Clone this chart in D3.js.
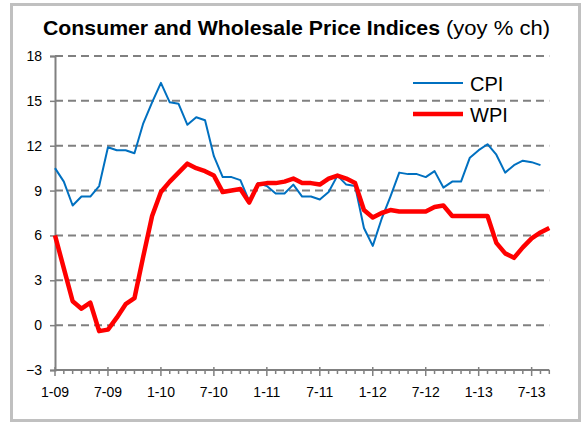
<!DOCTYPE html>
<html>
<head>
<meta charset="utf-8">
<script src="https://cdn.jsdelivr.net/npm/d3@7"></script>
<style>
  html, body { margin: 0; padding: 0; background: #fff; }
  svg { display: block; font-family: "Liberation Sans", Arial, sans-serif; }
</style>
</head>
<body>
<svg id="chart" width="582" height="423"></svg>
<script>
// Monthly year-on-year inflation, Jan 2009 onwards (index 0 = Jan 2009)
const cpi = [
  10.5, 9.6, 8.0, 8.6, 8.6, 9.3, 11.9, 11.7, 11.7, 11.5, 13.5, 14.9,
  16.2, 14.9, 14.8, 13.4, 13.9, 13.7, 11.3, 9.9, 9.9, 9.7, 8.3, 9.5,
  9.3, 8.8, 8.8, 9.4, 8.6, 8.6, 8.4, 8.9, 10.0, 9.4, 9.3, 6.5,
  5.3, 7.1, 8.6, 10.2, 10.1, 10.1, 9.9, 10.3, 9.2, 9.6, 9.6, 11.2,
  11.7, 12.1, 11.4, 10.2, 10.7, 11.0, 10.9, 10.7
];
const wpi = [
  6.0, 3.8, 1.6, 1.1, 1.5, -0.4, -0.3, 0.5, 1.4, 1.8, 4.6, 7.3,
  8.9, 9.6, 10.2, 10.8, 10.5, 10.3, 10.0, 8.9, 9.0, 9.1, 8.2, 9.4,
  9.5, 9.5, 9.6, 9.8, 9.5, 9.5, 9.4, 9.8, 10.0, 9.8, 9.5, 7.7,
  7.2, 7.5, 7.7, 7.6, 7.6, 7.6, 7.6, 7.9, 8.0, 7.3, 7.3, 7.3,
  7.3, 7.3, 5.5, 4.8, 4.5, 5.2, 5.8, 6.2, 6.5
];
const monthCount = 57; // Jan 2009 .. Sep 2013
const xTickLabels = ["1-09", "7-09", "1-10", "7-10", "1-11", "7-11", "1-12", "7-12", "1-13", "7-13"];
const yTicks = [-3, 0, 3, 6, 9, 12, 15, 18];
const seriesNames = ["CPI", "WPI"];

const svg = d3.select("#chart");
const plot = { left: 55, right: 549.3, top: 56, bottom: 370 };

// outer frame
svg.append("rect")
  .attr("x", 11.5).attr("y", 4.5).attr("width", 568).attr("height", 416)
  .attr("fill", "#fff").attr("stroke", "#c0c0c0").attr("stroke-width", 3);

const x = d3.scaleLinear().domain([0, monthCount - 1]).range([plot.left, plot.right]);
const y = d3.scaleLinear().domain([-3, 18]).range([plot.bottom, plot.top]);

// dashed horizontal gridlines
svg.append("g").selectAll("line")
  .data(yTicks.filter(v => v > -3))
  .join("line")
  .attr("x1", plot.left).attr("x2", plot.right)
  .attr("y1", d => y(d)).attr("y2", d => y(d))
  .attr("stroke", "#808080").attr("stroke-width", 2)
  .attr("stroke-dasharray", "8,5");

// y axis
const yAxis = d3.axisLeft(y).tickValues(yTicks).tickSize(5).tickPadding(8);
const gy = svg.append("g").attr("transform", `translate(${plot.left},0)`).call(yAxis);
gy.select(".domain").attr("stroke", "#808080").attr("stroke-width", 2);
gy.selectAll(".tick line").attr("stroke", "#808080").attr("stroke-width", 1.5);
gy.selectAll(".tick text").attr("font-size", 14).attr("fill", "#000")
  .attr("font-family", "Liberation Sans, Arial, sans-serif");

// x axis: minor ticks each month, labelled major ticks every six months
const gx = svg.append("g").attr("transform", `translate(0,${plot.bottom})`);
gx.append("line").attr("x1", plot.left).attr("x2", plot.right)
  .attr("stroke", "#808080").attr("stroke-width", 2);
gx.selectAll("line.minor")
  .data(d3.range(monthCount))
  .join("line").attr("class", "minor")
  .attr("x1", d => x(d)).attr("x2", d => x(d))
  .attr("y1", d => d % 6 === 0 ? -3 : 0)
  .attr("y2", d => d % 6 === 0 ? 6 : 4)
  .attr("stroke", "#808080").attr("stroke-width", 1.5);
gx.selectAll("text")
  .data(xTickLabels)
  .join("text")
  .attr("x", (d, i) => x(i * 6)).attr("y", 27)
  .attr("text-anchor", "middle").attr("font-size", 14).attr("fill", "#000")
  .text(d => d);

// series lines
const line = d3.line().x((d, i) => x(i)).y(d => y(d));
svg.append("path").datum(cpi).attr("d", line)
  .attr("fill", "none").attr("stroke", "#0070C0").attr("stroke-width", 2)
  .attr("stroke-linejoin", "round");
svg.append("path").datum(wpi).attr("d", line)
  .attr("fill", "none").attr("stroke", "#FF0000").attr("stroke-width", 4.5)
  .attr("stroke-linejoin", "round");

// legend
const legend = svg.append("g");
const legendStyles = [
  { color: "#0070C0", width: 2, y: 83 },
  { color: "#FF0000", width: 4.5, y: 114 }
];
seriesNames.forEach((name, i) => {
  const s = legendStyles[i];
  legend.append("line").attr("x1", 413).attr("x2", 463).attr("y1", s.y).attr("y2", s.y)
    .attr("stroke", s.color).attr("stroke-width", s.width);
  legend.append("text").attr("x", 470).attr("y", s.y + 7.5)
    .attr("font-size", 20).attr("fill", "#000").text(name);
});

// title: bold main part followed by the units note
svg.append("text").attr("x", 43).attr("y", 35)
  .attr("font-size", 21).attr("font-weight", "bold").attr("fill", "#000")
  .attr("textLength", 397).attr("lengthAdjust", "spacingAndGlyphs")
  .text("Consumer and Wholesale Price Indices");
svg.append("text").attr("x", 446).attr("y", 35)
  .attr("font-size", 21).attr("fill", "#000")
  .attr("textLength", 104).attr("lengthAdjust", "spacingAndGlyphs")
  .text("(yoy % ch)");
</script>
</body>
</html>
